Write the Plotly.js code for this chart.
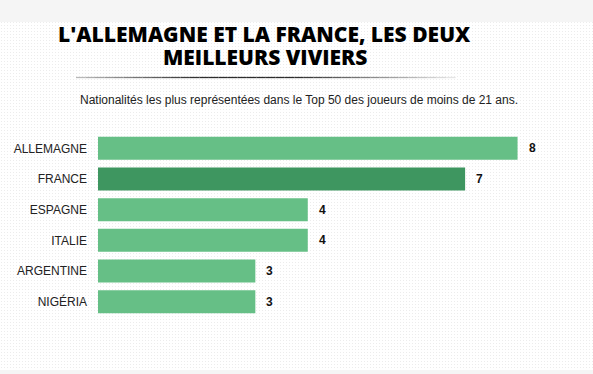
<!DOCTYPE html>
<html>
<head>
<meta charset="utf-8">
<script src="https://cdn.plot.ly/plotly-3.0.1.min.js"></script>
<style>
  html, body { margin:0; padding:0; width:593px; height:374px; overflow:hidden; }
  body {
    background-color:#ffffff;
    background-image: radial-gradient(#ececec 0.6px, transparent 0.8px);
    background-size: 3px 3px;
    position:relative;
  }
  #topband { position:absolute; left:0; top:0; width:593px; height:22px; background:#f5f5f5; }
  #botband { position:absolute; left:0; top:370px; width:593px; height:4px; background:#f5f5f5; }
  #chart { position:absolute; left:0; top:0; width:593px; height:374px; }
</style>
</head>
<body>
<div id="topband"></div>
<div id="botband"></div>
<div id="chart"></div>
<script>
const categories = ["ALLEMAGNE", "FRANCE", "ESPAGNE", "ITALIE", "ARGENTINE", "NIGÉRIA"];
const values = [8, 7, 4, 4, 3, 3];
const highlight = "FRANCE";

const W = 593, H = 374;
const mt = 133, mb = 57, ml = 98, mr = 22.5;
const ph = H - mt - mb;
function py(p) { return (H - mb - p) / ph; }
function px(p) { return (p - ml) / (W - ml - mr); }

const colors = categories.map(c => c === highlight ? "#3e9660" : "#66bf86");

const trace = {
  type: "bar",
  orientation: "h",
  x: values,
  y: categories,
  marker: { color: colors, line: { width: 0 } },
  hoverinfo: "none",
  width: 0.75
};

const annotations = categories.map((c, i) => ({
  x: values[i], y: c, xref: "x", yref: "y",
  text: String(values[i]), showarrow: false,
  xanchor: "left", yanchor: "middle", xshift: 9,
  font: { family: "Liberation Sans, Arial, sans-serif", size: 12, color: "#111", weight: "bold" }
}));

const titleFont = { family: "Open Sans, sans-serif", size: 21, color: "#000", weight: 800 };
annotations.push({
  xref: "paper", yref: "paper", x: px(265), y: py(34),
  text: "L'ALLEMAGNE ET LA FRANCE, LES DEUX", showarrow: false,
  xanchor: "center", yanchor: "middle", height: 22,
  font: titleFont
});
annotations.push({
  xref: "paper", yref: "paper", x: px(265), y: py(57),
  text: "MEILLEURS VIVIERS", showarrow: false,
  xanchor: "center", yanchor: "middle", height: 22,
  font: titleFont
});
annotations.push({
  xref: "paper", yref: "paper", x: px(299.5), y: py(100),
  text: "Nationalités les plus représentées dans le Top 50 des joueurs de moins de 21 ans.", showarrow: false,
  xanchor: "center", yanchor: "middle",
  font: { family: "Liberation Sans, Arial, sans-serif", size: 12, color: "#222" }
});

// separator line with fading ends
const shapes = [];
const x0 = 76, x1 = 456, n = 40;
for (let k = 0; k < n; k++) {
  const a = x0 + (x1 - x0) * k / n, b = x0 + (x1 - x0) * (k + 1) / n;
  const t = (k + 0.5) / n;
  const d = 1 - Math.abs(t - 0.45) / 0.55;
  const g = Math.round(235 - 190 * Math.max(0, Math.min(1, d * 1.3)));
  shapes.push({
    type: "line", xref: "paper", yref: "paper",
    x0: px(a), x1: px(b), y0: py(77.5), y1: py(77.5),
    line: { color: `rgb(${g},${g},${g})`, width: 1.3 }
  });
}

const layout = {
  width: W, height: H,
  margin: { l: ml, r: mr, t: mt, b: mb, pad: 0 },
  paper_bgcolor: "rgba(0,0,0,0)",
  plot_bgcolor: "rgba(0,0,0,0)",
  showlegend: false,
  xaxis: { range: [0, 9], visible: false, fixedrange: true },
  yaxis: {
    autorange: "reversed",
    showgrid: false, zeroline: false, showline: false, ticks: "",
    ticklabelstandoff: 10,
    tickfont: { family: "Liberation Sans, Arial, sans-serif", size: 12, color: "#222" },
    fixedrange: true
  },
  annotations: annotations,
  shapes: shapes
};

Plotly.newPlot("chart", [trace], layout, { displayModeBar: false, staticPlot: true });
</script>
</body>
</html>
